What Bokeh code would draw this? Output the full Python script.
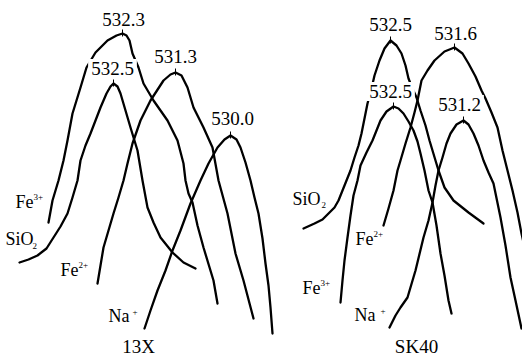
from bokeh.plotting import figure
from bokeh.models import ColumnDataSource, Range1d
from bokeh.core.properties import value
from bokeh.embed import file_html
from bokeh.resources import INLINE

# ---- curves (schematic coordinates) ----
fe3_13x_x = [48, 52, 55, 58, 63, 67, 72, 80, 86, 95, 107, 116, 122, 126, 129, 132, 138, 143, 153, 167, 177, 183, 185, 188, 192, 197, 203, 213, 217]
fe3_13x_y = [222, 200, 190, 180, 160, 140, 113, 87, 67, 52, 40, 35, 33, 35, 40, 53, 67, 83, 100, 120, 140, 163, 180, 193, 202, 225, 247, 280, 303]

sio2_13x_x = [19, 28, 37, 46, 53, 60, 67, 72, 77, 80, 85, 90, 95, 100, 106, 110, 113, 117, 120, 125, 130, 137, 142, 147, 153, 160, 172, 183, 195]
sio2_13x_y = [262, 259, 255, 248, 237, 226, 213, 197, 180, 160, 145, 133, 120, 107, 93, 86, 83, 86, 93, 110, 127, 150, 180, 207, 222, 237, 252, 262, 268]

fe2_13x_x = [97, 100, 103, 108, 113, 118, 123, 127, 132, 140, 150, 163, 170, 175, 181, 187, 193, 203, 212, 218, 227, 235, 243, 253]
fe2_13x_y = [283, 265, 247, 230, 213, 197, 180, 163, 143, 120, 100, 80, 74, 72, 75, 87, 107, 127, 147, 180, 213, 253, 280, 318]

na_13x_x = [144, 150, 157, 165, 172, 180, 190, 200, 208, 217, 224, 230, 236, 240, 245, 250, 254, 258, 262, 265, 268, 270, 272]
na_13x_y = [328, 310, 290, 270, 250, 230, 203, 180, 163, 147, 139, 135, 139, 147, 162, 180, 197, 213, 238, 263, 285, 307, 333]

sio2_sk_x = [303, 314, 322, 328, 334, 338, 342, 346, 350, 354, 358, 361, 364, 367, 371, 374, 379, 384, 390, 396, 401, 405, 408, 412, 416, 420, 425, 429, 432, 435, 438, 444, 453, 468, 483]
sio2_sk_y = [228, 223, 219, 213, 207, 200, 190, 180, 170, 157, 145, 133, 118, 103, 88, 75, 60, 48, 40, 45, 53, 65, 78, 88, 97, 110, 125, 140, 150, 160, 170, 187, 200, 212, 223]

fe3_sk_x = [340, 342, 344, 347, 350, 353, 357, 360, 366, 372, 380, 386, 393, 398, 403, 408, 413, 417, 420, 424, 428, 432, 436, 440, 444, 448, 451]
fe3_sk_y = [302, 280, 260, 237, 215, 195, 180, 165, 152, 140, 120, 111, 106, 108, 113, 121, 130, 141, 153, 170, 190, 202, 225, 253, 275, 300, 313]

fe2_sk_x = [383, 388, 393, 397, 400, 405, 410, 414, 417, 421, 427, 434, 444, 454, 462, 468, 475, 481, 485, 491, 497, 502, 507, 512, 517, 521, 526]
fe2_sk_y = [225, 208, 190, 170, 160, 143, 127, 112, 100, 80, 70, 60, 51, 47, 53, 63, 76, 90, 98, 112, 127, 150, 170, 190, 212, 233, 255]

na_sk_x = [389, 395, 400, 407, 415, 423, 428, 432, 435, 438, 442, 446, 450, 456, 463, 468, 473, 478, 483, 488, 493, 500, 505, 510, 515, 521]
na_sk_y = [327, 315, 307, 297, 270, 237, 220, 202, 185, 170, 157, 143, 133, 124, 120, 124, 133, 145, 160, 172, 183, 217, 245, 277, 300, 328]

# peak binding energies (eV) and peak positions
peak_labels = ["532.3", "532.5", "531.3", "530.0", "532.5", "531.6", "532.5", "531.2"]
peak_x = [122, 113, 175, 230, 390, 454, 393, 463]
peak_y = [33, 83, 72, 135, 40, 47, 106, 120]

# species labels
species_main = ["Fe", "SiO", "Fe", "Na", "SiO", "Fe", "Fe", "Na"]
species_script = ["3+", "2", "2+", "+", "2", "2+", "3+", "+"]
sample_names = ["13X", "SK40"]

# ---- layout positions ----
label_cx = [123, 112, 175, 232, 390, 455, 390, 459]
label_cy = [19, 68, 56, 118, 24, 33, 91, 104]
main_x = [15, 5, 60, 108, 292, 355, 302, 354]
main_y = [201, 238, 269, 315, 198, 238, 287, 314]
script_x = [33, 32, 78, 132, 321, 373, 320, 380]
script_y = [196, 245, 264, 311, 204, 233, 282, 310]
sample_x = [138, 416]
sample_y = [346, 346]

p = figure(width=522, height=359, output_backend="svg", toolbar_location=None,
           x_range=Range1d(0, 522), y_range=Range1d(359, 0),
           x_axis_location=None, y_axis_location=None, min_border=0,
           background_fill_color="white", border_fill_color="white")
p.outline_line_color = None
p.grid.visible = False

curves = [(fe3_13x_x, fe3_13x_y), (sio2_13x_x, sio2_13x_y), (fe2_13x_x, fe2_13x_y), (na_13x_x, na_13x_y),
          (sio2_sk_x, sio2_sk_y), (fe3_sk_x, fe3_sk_y), (fe2_sk_x, fe2_sk_y), (na_sk_x, na_sk_y)]
for cx, cy in curves:
    p.line(cx, cy, line_color="black", line_width=2.3, line_join="round", line_cap="round")

# peak ticks
p.segment(x0=peak_x, y0=[y - 4 for y in peak_y], x1=peak_x, y1=[y + 3 for y in peak_y],
          line_color="black", line_width=1)

serif = value("Liberation Serif")
lab_src = ColumnDataSource(dict(x=label_cx, y=label_cy, t=peak_labels))
p.text(x="x", y="y", text="t", source=lab_src, text_font=serif, text_font_size="19px",
       text_align="center", text_baseline="middle", text_color="black",
       background_fill_color="white", padding=3)

sp_src = ColumnDataSource(dict(x=main_x, y=main_y, t=species_main))
p.text(x="x", y="y", text="t", source=sp_src, text_font=serif, text_font_size="18px",
       text_align="left", text_baseline="middle", text_color="black")
sc_src = ColumnDataSource(dict(x=script_x, y=script_y, t=species_script))
p.text(x="x", y="y", text="t", source=sc_src, text_font=serif, text_font_size="9px",
       text_align="left", text_baseline="middle", text_color="black")

sm_src = ColumnDataSource(dict(x=sample_x, y=sample_y, t=sample_names))
p.text(x="x", y="y", text="t", source=sm_src, text_font=serif, text_font_size="19px",
       text_align="center", text_baseline="middle", text_color="black")

open("out.html", "w").write(file_html(p, INLINE))
